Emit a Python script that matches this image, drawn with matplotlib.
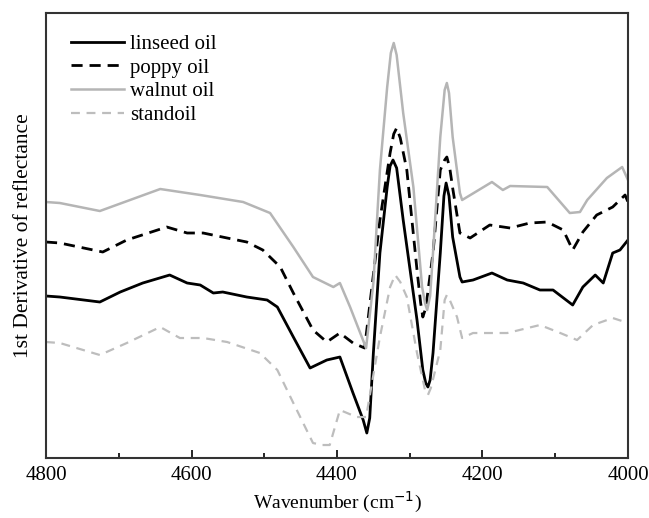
import numpy as np
import matplotlib.pyplot as plt

plt.rcParams['font.family'] = ['Liberation Serif', 'DejaVu Serif']

# wavenumber (cm-1) and first-derivative signal (arbitrary units, offset per sample)
wn_linseed = [4800, 4781, 4726, 4698, 4667, 4630, 4606, 4588, 4570, 4557, 4524, 4496,
              4482, 4460, 4437, 4414, 4396, 4378, 4364, 4359, 4355, 4350, 4341, 4331,
              4327, 4323, 4318, 4309, 4290, 4282, 4278, 4275, 4272, 4268, 4258, 4253,
              4250, 4246, 4241, 4231, 4228, 4213, 4187, 4166, 4144, 4121, 4103, 4076,
              4062, 4045, 4034, 4021, 4011, 4000]
y_linseed = [162, 161, 156, 166, 175, 183, 175, 173, 165, 166, 161, 158,
             151, 121, 90, 98, 101, 65, 38, 25, 40, 105, 205, 271,
             292, 298, 290, 238, 138, 88, 75, 71, 78, 105, 205, 262,
             275, 262, 221, 181, 176, 178, 185, 178, 175, 168, 168, 153,
             171, 183, 175, 205, 208, 218]

wn_poppy = [4800, 4781, 4735, 4722, 4689, 4634, 4606, 4584, 4551, 4524, 4502, 4478,
            4460, 4433, 4414, 4396, 4378, 4362, 4341, 4327, 4322, 4318, 4313, 4304,
            4290, 4285, 4282, 4278, 4268, 4258, 4252, 4249, 4245, 4241, 4231, 4217,
            4190, 4162, 4135, 4111, 4089, 4076, 4062, 4043, 4021, 4004, 4000]
y_poppy = [216, 215, 208, 206, 218, 231, 225, 225, 220, 216, 208, 191,
           165, 128, 116, 125, 115, 110, 238, 305, 324, 330, 320, 288,
           188, 155, 141, 150, 205, 288, 298, 301, 290, 270, 225, 220,
           233, 230, 235, 236, 228, 208, 226, 243, 251, 263, 256]

wn_walnut = [4800, 4781, 4726, 4643, 4588, 4529, 4492, 4460, 4433, 4405, 4396, 4382,
             4360, 4350, 4341, 4331, 4326, 4322, 4318, 4309, 4295, 4283, 4279, 4276,
             4272, 4268, 4258, 4252, 4249, 4246, 4241, 4231, 4228, 4187, 4172, 4162,
             4111, 4080, 4066, 4056, 4029, 4008, 4000]
y_walnut = [256, 255, 247, 269, 263, 256, 245, 211, 181, 171, 175, 151,
            110, 175, 288, 371, 405, 415, 403, 345, 271, 171, 155, 148,
            162, 205, 321, 368, 375, 365, 321, 265, 258, 276, 268, 272,
            271, 245, 246, 258, 280, 291, 278]

wn_stand = [4800, 4781, 4726, 4689, 4643, 4616, 4584, 4551, 4506, 4482, 4460, 4433,
            4420, 4410, 4396, 4373, 4360, 4341, 4327, 4320, 4313, 4304, 4290, 4279,
            4275, 4271, 4258, 4252, 4249, 4245, 4235, 4228, 4213, 4166, 4121, 4093,
            4070, 4048, 4021, 4004, 4000]
y_stand = [116, 115, 103, 115, 131, 120, 120, 116, 105, 88, 55, 15,
           13, 13, 48, 41, 41, 121, 171, 183, 176, 161, 105, 68,
           63, 70, 108, 158, 163, 158, 141, 120, 125, 125, 133, 125,
           118, 133, 140, 136, 136]

fig = plt.figure(figsize=(6.49, 5.18), dpi=100)
ax = fig.add_axes([0.0709, 0.1158, 0.8967, 0.8591])

ax.plot(wn_linseed, y_linseed, color='black', lw=2.0, label='linseed oil')
ax.plot(wn_poppy, y_poppy, color='black', lw=2.0, ls=(0, (4, 2.5)), label='poppy oil')
ax.plot(wn_walnut, y_walnut, color='#b5b5b5', lw=1.8, label='walnut oil')
ax.plot(wn_stand, y_stand, color='#bdbdbd', lw=1.6, ls=(0, (4, 3)), label='standoil')

ax.set_xlim(4800, 4000)
ax.set_ylim(0, 445)
ax.set_xticks([4800, 4600, 4400, 4200, 4000])
ax.set_xticks([4700, 4500, 4300, 4100], minor=True)
ax.set_yticks([216])
ax.set_yticklabels([])
ax.tick_params(axis='both', which='both', direction='in', labelsize=15, width=1.2)
ax.tick_params(axis='x', which='major', length=6, pad=6)
ax.tick_params(axis='x', which='minor', length=3.5)
ax.tick_params(axis='y', length=4)
for s in ax.spines.values():
    s.set_linewidth(1.5)
    s.set_color('#333333')

ax.set_xlabel('Wavenumber (cm$^{-1}$)', fontsize=14, labelpad=3)
ax.set_ylabel('1st Derivative of reflectance', fontsize=15.5, labelpad=6)

ax.legend(loc='upper left', frameon=False, fontsize=15, handlelength=2.55,
          handletextpad=0.3, labelspacing=0.2, borderaxespad=0.3,
          bbox_to_anchor=(0.018, 0.985))

fig.savefig('out.png', dpi=100)
